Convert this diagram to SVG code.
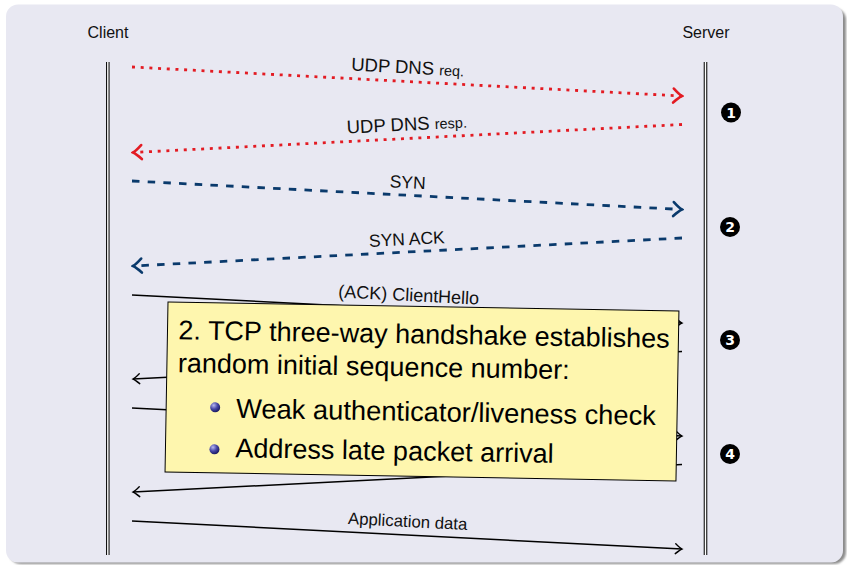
<svg xmlns="http://www.w3.org/2000/svg" width="847" height="565" viewBox="0 0 847 565">
<style>
.lbl{font-family:"Liberation Sans",Arial,sans-serif;font-size:17.5px;fill:#111;text-anchor:middle}
.sm{font-size:14.5px}
.actor{font-family:"Liberation Sans",Arial,sans-serif;font-size:16px;fill:#111;text-anchor:middle}
.red{stroke:#e31b23;stroke-width:2.8;stroke-dasharray:3 5.7;fill:none}
.blue{stroke:#0a3a6c;stroke-width:2.8;stroke-dasharray:7.5 8.2;fill:none}
.blk{stroke:#000;stroke-width:1.5;fill:none}
.num{font-family:"DejaVu Sans",sans-serif;font-weight:bold;font-size:14px;fill:#fff;text-anchor:middle}
.box{font-family:"Liberation Sans",Arial,sans-serif;font-size:27px;fill:#000}
</style>
<defs>
<marker id="hr" markerUnits="userSpaceOnUse" viewBox="-12 -10 14 20" markerWidth="14" markerHeight="20" refX="0" refY="0" orient="auto">
<path d="M-8.5,-7 Q-3,-1.5 0,0 Q-3,1.5 -8.5,7" stroke="#e31b23" stroke-width="2.6" fill="none" stroke-linecap="round"/>
</marker>
<marker id="hb" markerUnits="userSpaceOnUse" viewBox="-12 -10 14 20" markerWidth="14" markerHeight="20" refX="0" refY="0" orient="auto">
<path d="M-8.5,-7 Q-3,-1.5 0,0 Q-3,1.5 -8.5,7" stroke="#0a3a6c" stroke-width="2.6" fill="none" stroke-linecap="round"/>
</marker>
<marker id="hk" markerUnits="userSpaceOnUse" viewBox="-10 -8 12 16" markerWidth="12" markerHeight="16" refX="0" refY="0" orient="auto">
<path d="M-6.5,-5 Q-2,-1 0,0 Q-2,1 -6.5,5" stroke="#000" stroke-width="1.4" fill="none" stroke-linecap="round"/>
</marker>
<radialGradient id="ball" cx="0.35" cy="0.3" r="0.75">
<stop offset="0" stop-color="#b8b8f0"/>
<stop offset="0.5" stop-color="#4848a8"/>
<stop offset="1" stop-color="#14145a"/>
</radialGradient>
<filter id="sh" x="-5%" y="-5%" width="110%" height="110%"><feGaussianBlur stdDeviation="1"/></filter>
</defs>
<rect width="847" height="565" fill="#ffffff"/>
<g id="panel">
<rect x="9" y="8" width="837" height="556" rx="12" fill="#8c8c8c" filter="url(#sh)"/>
<rect x="6" y="4.5" width="837" height="558" rx="12" fill="#e8e8f2"/>
</g>
<g id="client">
<text class="actor" x="108" y="38">Client</text>
<line x1="107.8" y1="62" x2="107.8" y2="555" stroke="#111" stroke-width="3.6"/>
<line x1="107.8" y1="62" x2="107.8" y2="555" stroke="#fff" stroke-width="1.4"/>
</g>
<g id="server">
<text class="actor" x="706" y="38">Server</text>
<line x1="705.5" y1="62" x2="705.5" y2="555" stroke="#111" stroke-width="3.6"/>
<line x1="705.5" y1="62" x2="705.5" y2="555" stroke="#fff" stroke-width="1.4"/>
</g>
<g id="connectors">
<line class="red" x1="132" y1="67" x2="682" y2="96" marker-end="url(#hr)"/>
<line class="red" x1="682" y1="124.5" x2="133" y2="152.5" marker-end="url(#hr)"/>
<line class="blue" x1="132" y1="181" x2="682" y2="209.5" marker-end="url(#hb)"/>
<line class="blue" x1="682" y1="238" x2="133" y2="266" marker-end="url(#hb)"/>
<line class="blk" x1="132" y1="295" x2="682" y2="323" marker-end="url(#hk)"/>
<line class="blk" x1="682" y1="351.5" x2="133" y2="379" marker-end="url(#hk)"/>
<line class="blk" x1="132" y1="408" x2="682" y2="436" marker-end="url(#hk)"/>
<line class="blk" x1="682" y1="464.5" x2="133" y2="492" marker-end="url(#hk)"/>
<line class="blk" x1="132" y1="521" x2="682" y2="549" marker-end="url(#hk)"/>
<g transform="translate(407,81.5) rotate(2.97)"><text class="lbl" x="0" y="-8" style="font-size:18.5px">UDP DNS <tspan class="sm">req.</tspan></text></g>
<g transform="translate(407.5,138.5) rotate(-2.92)"><text class="lbl" x="0" y="-8" style="font-size:18.5px">UDP DNS <tspan class="sm">resp.</tspan></text></g>
<g transform="translate(407,195.2) rotate(2.97)"><text class="lbl" x="0" y="-7">SYN</text></g>
<g transform="translate(407.5,252) rotate(-2.92)"><text class="lbl" x="0" y="-7">SYN ACK</text></g>
<g transform="translate(408,309) rotate(2.92)"><text class="lbl" x="0" y="-8" style="font-size:18px">(ACK) ClientHello</text></g>
<g transform="translate(407,535) rotate(2.92)"><text class="lbl" x="0" y="-8" style="font-size:16.8px">Application data</text></g>
</g>
<g id="step1"><circle cx="731" cy="112.5" r="10" fill="#000"/><text class="num" x="731" y="117.5">1</text></g>
<g id="step2"><circle cx="730" cy="227" r="10" fill="#000"/><text class="num" x="730" y="232">2</text></g>
<g id="step3"><circle cx="730" cy="340" r="10" fill="#000"/><text class="num" x="730" y="345">3</text></g>
<g id="step4"><circle cx="730" cy="454" r="10" fill="#000"/><text class="num" x="730" y="459">4</text></g>
<g id="note" transform="rotate(1,168,302)">
<rect x="168" y="302" width="511" height="170" fill="#fef6ae" stroke="#000" stroke-width="1"/>
<text class="box" x="179" y="339">2. TCP three-way handshake establishes</text>
<text class="box" x="179" y="372">random initial sequence number:</text>
<circle cx="217" cy="406.5" r="5" fill="url(#ball)"/>
<text class="box" x="238" y="416.5" style="font-size:27.3px">Weak authenticator/liveness check</text>
<circle cx="217" cy="448.5" r="5" fill="url(#ball)"/>
<text class="box" x="238" y="456">Address late packet arrival</text>
</g>
</svg>
